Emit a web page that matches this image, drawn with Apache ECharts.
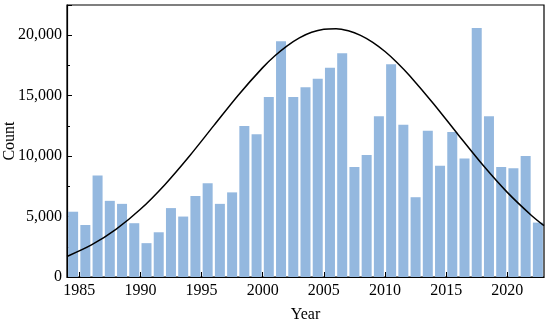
<!DOCTYPE html>
<html>
<head>
<meta charset="utf-8">
<script src="https://cdn.jsdelivr.net/npm/echarts@6/dist/echarts.min.js"></script>
<style>html,body{margin:0;padding:0;background:#fff}#c{width:550px;height:324px}</style>
</head>
<body>
<div id="c"></div>
<script>
// Data
var years = [1984,1985,1986,1987,1988,1989,1990,1991,1992,1993,1994,1995,1996,1997,1998,1999,2000,2001,2002,2003,2004,2005,2006,2007,2008,2009,2010,2011,2012,2013,2014,2015,2016,2017,2018,2019,2020,2021,2022];
var counts = [5400,4300,8400,6300,6050,4450,2800,3700,5700,5000,6700,7750,6050,7000,12500,11800,14900,19500,14900,15700,16400,17300,18500,9100,10100,13300,17600,12600,6600,12100,9200,12000,9800,20600,13300,9100,9000,10000,4500];
var curveX = [1984,1986,1988,1990,1992,1994,1996,1998,2000,2001,2002,2003,2004,2005,2006,2007,2008,2009,2010,2011,2012,2014,2016,2018,2020,2022,2023];
var curveY = [1700,2650,3940,5600,7640,9990,12520,15040,17320,18300,19120,19780,20240,20500,20545,20370,19990,19410,18650,17730,16670,14290,11750,9260,7000,5070,4250];
var xTickLabels = [1985,1990,1995,2000,2005,2010,2015,2020];
var xMinorTicks = [1987.5,1992.5,1997.5,2002.5,2007.5,2012.5,2017.5,2022.5];

var barData = years.map(function(y,i){return [y+0.5, counts[i]];});
var lineData = curveX.map(function(x,i){return [x, curveY[i]];});
var font = 'Liberation Serif';

var chart = echarts.init(document.getElementById('c'), null, {renderer:'canvas'});
chart.setOption({
  animation:false,
  backgroundColor:'#fff',
  grid:{left:67,right:6,top:5,bottom:47,outerBoundsMode:'none',containLabel:false,show:true,borderColor:'#000',borderWidth:1.2,backgroundColor:'transparent'},
  xAxis:[{
    type:'value',min:1984,max:2023,
    name:'Year',nameLocation:'middle',nameGap:30,nameMoveOverlap:false,
    nameTextStyle:{fontFamily:font,fontSize:16,color:'#000'},
    axisLine:{show:true,lineStyle:{color:'#000',width:1.2}},
    axisTick:{show:true,inside:true,length:5,customValues:xTickLabels,lineStyle:{color:'#000',width:1}},
    axisLabel:{customValues:xTickLabels,fontFamily:font,fontSize:16,color:'#000',margin:6,
      formatter:function(v){return String(v);}},
    splitLine:{show:false}
  },{
    type:'value',min:1984,max:2023,position:'bottom',
    axisLine:{show:false},
    axisTick:{show:true,inside:true,length:3,customValues:xMinorTicks,lineStyle:{color:'#000',width:1}},
    axisLabel:{show:false},
    splitLine:{show:false}
  }],
  yAxis:{
    type:'value',min:0,max:22500,interval:5000,
    name:'Count',nameLocation:'middle',nameGap:49,nameMoveOverlap:false,
    nameTextStyle:{fontFamily:font,fontSize:16,color:'#000'},
    axisLine:{show:true,lineStyle:{color:'#000',width:1.2}},
    axisTick:{show:true,inside:true,length:5,lineStyle:{color:'#000',width:1}},
    minorTick:{show:true,splitNumber:2,length:3,lineStyle:{color:'#000',width:1}},
    axisLabel:{fontFamily:font,fontSize:16,color:'#000',margin:5,showMaxLabel:false,
      formatter:function(v){return v>20000?'':v.toLocaleString('en-US');}},
    splitLine:{show:false}
  },
  series:[{
    type:'bar',xAxisIndex:0,data:barData,barWidth:10,
    itemStyle:{color:'#94b8df'}
  },{
    type:'line',xAxisIndex:0,data:lineData,smooth:0.3,showSymbol:false,
    lineStyle:{color:'#000',width:1.5},z:5
  }]
});
</script>
</body>
</html>
